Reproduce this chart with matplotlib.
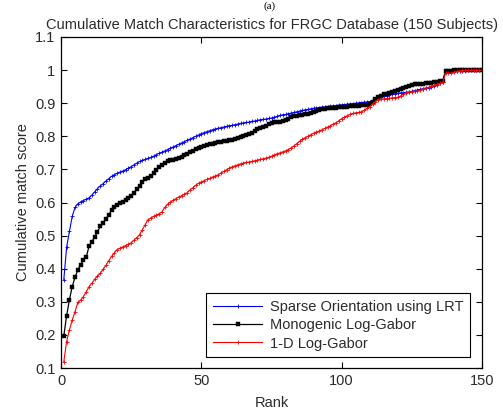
import matplotlib
matplotlib.use("Agg")
import matplotlib.pyplot as plt
import numpy as np

ranks = np.arange(1, 151)

# Sparse Orientation using LRT
sparse_lrt = [
    0.367, 0.465, 0.513, 0.558, 0.585, 0.596, 0.602, 0.606, 0.610, 0.614,
    0.622, 0.632, 0.642, 0.650, 0.657, 0.665, 0.672, 0.679, 0.684, 0.688,
    0.692, 0.695, 0.699, 0.704, 0.708, 0.714, 0.719, 0.724, 0.727, 0.730,
    0.733, 0.736, 0.740, 0.745, 0.749, 0.752, 0.756, 0.760, 0.764, 0.768,
    0.772, 0.776, 0.780, 0.784, 0.788, 0.792, 0.796, 0.800, 0.804, 0.808,
    0.811, 0.814, 0.817, 0.820, 0.822, 0.824, 0.826, 0.828, 0.830, 0.832,
    0.833, 0.835, 0.837, 0.839, 0.840, 0.842, 0.843, 0.845, 0.846, 0.848,
    0.850, 0.851, 0.852, 0.854, 0.855, 0.857, 0.860, 0.863, 0.865, 0.866,
    0.868, 0.870, 0.872, 0.874, 0.876, 0.878, 0.880, 0.881, 0.883, 0.885,
    0.886, 0.887, 0.888, 0.889, 0.890, 0.891, 0.892, 0.893, 0.894, 0.895,
    0.896, 0.897, 0.898, 0.899, 0.900, 0.901, 0.902, 0.903, 0.904, 0.905,
    0.908, 0.912, 0.916, 0.919, 0.921, 0.923, 0.925, 0.927, 0.928, 0.930,
    0.931, 0.932, 0.933, 0.934, 0.936, 0.938, 0.940, 0.942, 0.944, 0.946,
    0.947, 0.949, 0.952, 0.955, 0.960, 0.963, 0.996, 0.997, 0.997, 0.997,
    0.998, 0.998, 0.998, 0.998, 0.999, 0.999, 0.999, 1.000, 1.000, 1.000,
]

# Monogenic Log-Gabor
monogenic = [
    0.197, 0.258, 0.306, 0.346, 0.374, 0.397, 0.412, 0.427, 0.435, 0.468,
    0.482, 0.495, 0.512, 0.528, 0.538, 0.550, 0.562, 0.577, 0.587, 0.592,
    0.597, 0.602, 0.608, 0.614, 0.620, 0.630, 0.640, 0.650, 0.662, 0.670,
    0.674, 0.680, 0.688, 0.697, 0.706, 0.714, 0.720, 0.724, 0.727, 0.729,
    0.731, 0.734, 0.737, 0.742, 0.748, 0.753, 0.757, 0.761, 0.765, 0.768,
    0.771, 0.774, 0.776, 0.778, 0.780, 0.782, 0.784, 0.786, 0.787, 0.789,
    0.790, 0.792, 0.795, 0.798, 0.801, 0.804, 0.807, 0.811, 0.816, 0.821,
    0.825, 0.829, 0.832, 0.836, 0.840, 0.842, 0.843, 0.844, 0.846, 0.849,
    0.853, 0.857, 0.860, 0.862, 0.863, 0.864, 0.866, 0.868, 0.870, 0.872,
    0.876, 0.880, 0.882, 0.883, 0.884, 0.885, 0.886, 0.887, 0.888, 0.889,
    0.890, 0.890, 0.891, 0.891, 0.892, 0.893, 0.894, 0.895, 0.896, 0.898,
    0.904, 0.912, 0.918, 0.923, 0.927, 0.929, 0.931, 0.934, 0.937, 0.940,
    0.944, 0.946, 0.948, 0.951, 0.955, 0.958, 0.958, 0.959, 0.959, 0.960,
    0.961, 0.962, 0.963, 0.964, 0.966, 0.968, 0.998, 0.998, 0.998, 0.999,
    1.000, 1.000, 1.000, 1.000, 1.000, 1.000, 1.000, 1.000, 1.000, 1.000,
]

# 1-D Log-Gabor
log_gabor_1d = [
    0.119, 0.180, 0.215, 0.245, 0.270, 0.298, 0.305, 0.316, 0.330, 0.346,
    0.356, 0.368, 0.378, 0.386, 0.398, 0.410, 0.424, 0.437, 0.448, 0.458,
    0.462, 0.466, 0.470, 0.474, 0.478, 0.486, 0.494, 0.503, 0.518, 0.533,
    0.548, 0.553, 0.558, 0.562, 0.566, 0.572, 0.585, 0.595, 0.601, 0.607,
    0.612, 0.617, 0.621, 0.625, 0.630, 0.638, 0.645, 0.652, 0.658, 0.662,
    0.666, 0.670, 0.673, 0.677, 0.680, 0.684, 0.689, 0.694, 0.699, 0.704,
    0.708, 0.711, 0.714, 0.717, 0.719, 0.721, 0.722, 0.724, 0.726, 0.728,
    0.730, 0.732, 0.734, 0.736, 0.740, 0.744, 0.747, 0.750, 0.753, 0.756,
    0.760, 0.765, 0.771, 0.778, 0.785, 0.791, 0.796, 0.800, 0.805, 0.809,
    0.813, 0.816, 0.820, 0.824, 0.828, 0.832, 0.837, 0.841, 0.847, 0.853,
    0.858, 0.862, 0.866, 0.869, 0.871, 0.872, 0.874, 0.878, 0.884, 0.890,
    0.898, 0.905, 0.910, 0.912, 0.913, 0.914, 0.915, 0.916, 0.917, 0.918,
    0.922, 0.927, 0.932, 0.934, 0.935, 0.936, 0.937, 0.939, 0.942, 0.945,
    0.948, 0.951, 0.954, 0.957, 0.960, 0.963, 0.990, 0.990, 0.991, 0.993,
    0.996, 0.998, 0.999, 0.999, 0.999, 1.000, 1.000, 1.000, 1.000, 1.000,
]

labels = ["Sparse Orientation using LRT", "Monogenic Log-Gabor", "1-D Log-Gabor"]

plt.rcParams['font.family'] = ['Liberation Sans', 'DejaVu Sans']
txt = '#2b2b2b'

fig = plt.figure(figsize=(5.03, 4.12), dpi=100)
ax = fig.add_axes([61/503, 44/412, 421/503, 331/412])

ax.plot(ranks, sparse_lrt, color='blue', lw=0.8, marker='+', ms=3.5, mew=0.6, label=labels[0])
ax.plot(ranks, monogenic, color='black', lw=0.9, marker='s', ms=2.4, mew=0.3, label=labels[1])
ax.plot(ranks, log_gabor_1d, color='red', lw=0.8, marker='+', ms=3.5, mew=0.6, label=labels[2])

ax.set_xlim(0, 150)
ax.set_ylim(0.1, 1.1)
ax.set_xticks([0, 50, 100, 150])
ax.set_yticks(np.round(np.arange(0.1, 1.11, 0.1), 1))
ax.set_yticklabels(['0.1', '0.2', '0.3', '0.4', '0.5', '0.6', '0.7', '0.8', '0.9', '1', '1.1'])
ax.tick_params(direction='in', top=True, right=True, length=4, width=0.8,
               labelsize=10.5, labelcolor=txt, pad=4)
for s in ax.spines.values():
    s.set_linewidth(0.9)

ax.set_title("Cumulative Match Characteristics for FRGC Database (150 Subjects)",
             fontsize=10.5, color=txt, pad=6)
ax.set_xlabel("Rank", fontsize=10.5, color=txt, labelpad=6)
ax.set_ylabel("Cumulative match score", fontsize=10.5, color=txt, labelpad=4)

leg = ax.legend(loc='lower right', bbox_to_anchor=(0.971, 0.033), borderaxespad=0,
                fontsize=10.5, frameon=True, fancybox=False, edgecolor='black',
                framealpha=1, handlelength=3.4, borderpad=0.45, labelspacing=0.3,
                handletextpad=0.5)
leg.get_frame().set_linewidth(0.8)
for t in leg.get_texts():
    t.set_color(txt)

fig.text(0.535, 1 - 1/412, "(a)", family='Liberation Serif', fontsize=8,
         ha='center', va='top')

fig.savefig("out.png", dpi=100)
